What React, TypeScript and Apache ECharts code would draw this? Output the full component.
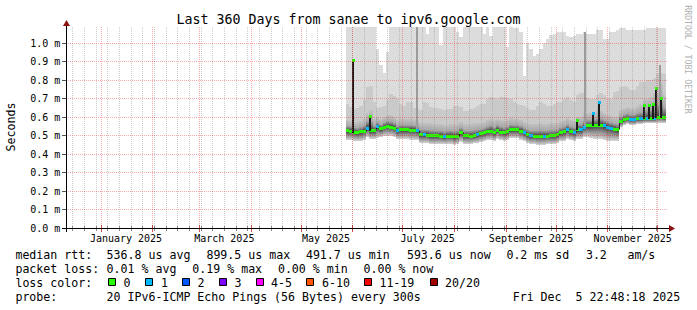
import React, { useEffect, useRef } from "react";
import * as echarts from "echarts";

// ---------------- text ----------------
const TITLE = "Last 360 Days from sanae to ipv6.google.com";
const Y_NAME = "Seconds";
const WATERMARK = "RRDTOOL / TOBI OETIKER";

// ---------------- axes (x = days since 2025-01-01 00:00) ----------------
const X_MIN = -21; // 2024-12-10 22:48
const X_MAX = 339; // 2025-12-05 22:48
const Y_MAX = 1.0865; // ms
const Y_TICKS = [0, 0.1, 0.2, 0.3, 0.4, 0.5, 0.6, 0.7, 0.8, 0.9, 1.0];
const Y_GRID = [0.1, 0.2, 0.3, 0.4, 0.5, 0.6, 0.7, 0.8, 0.9, 1.0];
const MONTH_STARTS = [0, 31, 59, 90, 120, 151, 181, 212, 243, 273, 304, 334];
const WEEK_SUNDAYS = [
  -17, -10, -3, 4, 11, 18, 25, 32, 39, 46, 53, 60, 67, 74, 81, 88, 95, 102, 109, 116,
  123, 130, 137, 144, 151, 158, 165, 172, 179, 186, 193, 200, 207, 214, 221, 228, 235,
  242, 249, 256, 263, 270, 277, 284, 291, 298, 305, 312, 319, 326, 333,
];
const LABEL_DAYS = [15, 74, 135, 196, 258, 319];
const MONTH_LABELS = ["January 2025", "March 2025", "May 2025", "July 2025", "September 2025", "November 2025"];

// ---------------- series (values in ms) ----------------
const STEP = 2; // days per column
const DAYS = [
  147, 149, 151, 153, 155, 157, 159, 161, 163, 165,
  167, 169, 171, 173, 175, 177, 179, 181, 183, 185,
  187, 189, 191, 193, 195, 197, 199, 201, 203, 205,
  207, 209, 211, 213, 215, 217, 219, 221, 223, 225,
  227, 229, 231, 233, 235, 237, 239, 241, 243, 245,
  247, 249, 251, 253, 255, 257, 259, 261, 263, 265,
  267, 269, 271, 273, 275, 277, 279, 281, 283, 285,
  287, 289, 291, 293, 295, 297, 299, 301, 303, 305,
  307, 309, 311, 313, 315, 317, 319, 321, 323, 325,
  327, 329, 331, 333, 335, 337,
];
const MEDIAN = [
  0.525, 0.522, 0.518, 0.515, 0.520, 0.522, 0.540, 0.525, 0.527, 0.548,
  0.536, 0.545, 0.550, 0.545, 0.540, 0.525, 0.530, 0.530, 0.530, 0.528,
  0.528, 0.527, 0.505, 0.505, 0.502, 0.500, 0.500, 0.500, 0.497, 0.493,
  0.495, 0.495, 0.493, 0.495, 0.515, 0.500, 0.500, 0.497, 0.500, 0.505,
  0.510, 0.515, 0.520, 0.522, 0.515, 0.528, 0.518, 0.515, 0.520, 0.530,
  0.530, 0.530, 0.522, 0.515, 0.505, 0.500, 0.497, 0.495, 0.495, 0.495,
  0.497, 0.500, 0.500, 0.505, 0.515, 0.520, 0.530, 0.520, 0.515, 0.530,
  0.532, 0.545, 0.554, 0.554, 0.555, 0.555, 0.555, 0.553, 0.545, 0.540,
  0.535, 0.530, 0.575, 0.585, 0.590, 0.585, 0.585, 0.590, 0.590, 0.590,
  0.590, 0.590, 0.590, 0.600, 0.600, 0.595,
];
const LOSS = [
  0, 0, 0, 0, 0, 0, 1, 0, 0, 1,
  0, 0, 0, 0, 0, 1, 0, 0, 0, 0,
  0, 1, 0, 1, 0, 0, 0, 0, 0, 1,
  0, 0, 0, 0, 0, 0, 0, 0, 0, 1,
  0, 0, 0, 0, 0, 0, 0, 0, 0, 0,
  0, 0, 0, 1, 0, 1, 0, 0, 0, 1,
  0, 0, 0, 0, 0, 0, 1, 0, 1, 0,
  1, 1, 0, 0, 0, 0, 0, 1, 1, 1,
  0, 0, 0, 0, 0, 1, 1, 0, 1, 0,
  1, 0, 1, 0, 0, 0,
];
const SMOKE_MAX = [
  1.09, 1.09, 1.09, 1.09, 1.09, 1.09, 1.09, 1.09, 1.09, 0.97,
  0.88, 0.84, 0.95, 1.09, 1.09, 1.09, 1.09, 1.09, 1.09, 1.09,
  1.09, 1.09, 1.09, 1.09, 1.05, 1.09, 1.09, 1.09, 0.99, 1.09,
  1.09, 1.09, 1.09, 1.06, 1.03, 1.09, 1.09, 1.09, 1.09, 1.09,
  1.09, 1.05, 1.09, 1.04, 1.09, 1.09, 1.09, 1.09, 0.98, 1.09,
  1.08, 1.08, 1.06, 0.82, 1.00, 0.97, 0.93, 0.94, 0.97, 1.00,
  1.02, 1.045, 1.05, 1.06, 1.06, 1.06, 1.04, 1.03, 1.04, 1.05,
  1.05, 1.06, 1.05, 1.05, 1.05, 1.07, 1.07, 1.02, 1.02, 1.06,
  1.06, 1.07, 1.08, 1.08, 1.07, 1.07, 1.07, 1.07, 1.07, 1.07,
  1.08, 1.08, 1.08, 1.08, 1.08, 1.08,
];
const SMOKE_HI2 = [
  0.672, 0.655, 0.645, 0.650, 0.660, 0.690, 0.760, 0.770, 0.680, 0.650,
  0.655, 0.660, 0.690, 0.725, 0.715, 0.700, 0.670, 0.660, 0.680, 0.680,
  0.650, 0.645, 0.640, 0.680, 0.675, 0.655, 0.650, 0.650, 0.645, 0.640,
  0.645, 0.645, 0.660, 0.660, 0.655, 0.635, 0.635, 0.645, 0.650, 0.660,
  0.670, 0.670, 0.700, 0.710, 0.705, 0.700, 0.710, 0.710, 0.705, 0.700,
  0.680, 0.670, 0.665, 0.660, 0.650, 0.640, 0.640, 0.660, 0.680, 0.670,
  0.660, 0.660, 0.670, 0.680, 0.680, 0.700, 0.710, 0.690, 0.680, 0.720,
  0.730, 0.730, 0.705, 0.700, 0.700, 0.720, 0.730, 0.720, 0.700, 0.700,
  0.735, 0.740, 0.760, 0.765, 0.760, 0.745, 0.745, 0.770, 0.790, 0.790,
  0.800, 0.800, 0.810, 0.830, 0.840, 0.830,
];
const SMOKE_HI3 = [
  0.585, 0.580, 0.575, 0.575, 0.580, 0.590, 0.620, 0.640, 0.590, 0.600,
  0.590, 0.600, 0.610, 0.610, 0.600, 0.585, 0.590, 0.590, 0.590, 0.590,
  0.585, 0.585, 0.565, 0.570, 0.565, 0.565, 0.560, 0.560, 0.560, 0.555,
  0.555, 0.560, 0.560, 0.560, 0.575, 0.560, 0.560, 0.560, 0.565, 0.565,
  0.570, 0.575, 0.585, 0.590, 0.585, 0.590, 0.585, 0.580, 0.585, 0.595,
  0.590, 0.590, 0.585, 0.575, 0.565, 0.560, 0.560, 0.560, 0.565, 0.560,
  0.560, 0.565, 0.565, 0.570, 0.580, 0.585, 0.595, 0.585, 0.580, 0.600,
  0.600, 0.615, 0.620, 0.620, 0.620, 0.630, 0.630, 0.620, 0.610, 0.605,
  0.600, 0.600, 0.640, 0.650, 0.655, 0.650, 0.650, 0.660, 0.670, 0.690,
  0.700, 0.710, 0.730, 0.760, 0.780, 0.720,
];
const SMOKE_MIN = [
  0.478, 0.475, 0.472, 0.470, 0.472, 0.475, 0.490, 0.480, 0.480, 0.485,
  0.490, 0.495, 0.500, 0.495, 0.490, 0.480, 0.480, 0.480, 0.480, 0.478,
  0.478, 0.475, 0.462, 0.460, 0.458, 0.455, 0.455, 0.455, 0.453, 0.452,
  0.452, 0.452, 0.450, 0.452, 0.465, 0.455, 0.455, 0.455, 0.458, 0.462,
  0.465, 0.470, 0.475, 0.478, 0.472, 0.480, 0.475, 0.472, 0.475, 0.485,
  0.485, 0.485, 0.478, 0.470, 0.460, 0.455, 0.452, 0.450, 0.450, 0.450,
  0.452, 0.455, 0.455, 0.460, 0.468, 0.472, 0.482, 0.475, 0.470, 0.480,
  0.480, 0.490, 0.490, 0.485, 0.480, 0.480, 0.480, 0.478, 0.472, 0.470,
  0.470, 0.468, 0.545, 0.555, 0.560, 0.555, 0.555, 0.560, 0.560, 0.565,
  0.565, 0.565, 0.565, 0.570, 0.570, 0.570,
];
// short median excursions (day, peak, loss class)
const SPIKE_DAYS = [151.0, 161.4, 285.6, 294.9, 298.8, 325.8, 328.8, 331.2, 333.0, 335.7];
const SPIKE_TOPS = [0.905, 0.603, 0.583, 0.617, 0.678, 0.663, 0.66, 0.665, 0.754, 0.70];
const SPIKE_LOSS = [0, 0, 0, 1, 1, 0, 0, 0, 0, 0];
// short smoke excursions (day, peak)
const GRAY_SPIKE_DAYS = [189.3, 290.4, 335.4];
const GRAY_SPIKE_TOPS = [1.09, 1.06, 0.88];

// ---------------- legend text ----------------
const RTT_LABEL = "median rtt:";
const RTT_STATS = ["536.8 us avg", "899.5 us max", "491.7 us min", "593.6 us now", "0.2 ms sd", "3.2", "am/s"];
const LOSS_LABEL = "packet loss:";
const LOSS_STATS = ["0.01 % avg", "0.19 % max", "0.00 % min", "0.00 % now"];
const COLOR_LABEL = "loss color:";
const LOSS_NAMES = ["0", "1", "2", "3", "4-5", "6-10", "11-19", "20/20"];
const LOSS_COLORS = ["#26ff00", "#00b8ff", "#0059ff", "#7e00ff", "#ff00ff", "#ff5500", "#ff0000", "#a10000"];
const PROBE_LABEL = "probe:";
const PROBE_TEXT = "20 IPv6-ICMP Echo Pings (56 Bytes) every 300s";
const DATE_PARTS = ["Fri Dec", "5 22:48:18 2025"];

// ---------------- layout ----------------
const MONO = "DejaVu Sans Mono";
const LEG_FS = 11.6;
const ROW_Y = [254.6, 268.8, 282.7, 296.9];
const LEFT_X = 15.4;
const RTT_X = [106.6, 206.4, 305.9, 406.9, 506.4, 585.9, 627.4];
const LOSS_X = [106.6, 192.3, 277.9, 363.5];
const BOX_X = [108.5, 145.5, 182.5, 219.5, 256.5, 306.5, 364.5, 430.5];
const BOX_TEXT_X = [123.4, 161.0, 197.4, 234.4, 271.0, 322.0, 379.4, 445.0];
const PROBE_X = 106.6;
const DATE_X = [512.7, 575.6];

const colIndex = (d: number) =>
  Math.min(DAYS.length - 1, Math.max(0, Math.floor((d - DAYS[0]) / STEP)));

function buildOption() {
  const smokeItem = (params: any, api: any) => {
    const cs = params.coordSys;
    const d = api.value(0);
    const xa = Math.round(api.coord([d, 0])[0]);
    const xb = Math.round(api.coord([d + STEP, 0])[0]);
    const Y = (v: number) => Math.max(cs.y, Math.round(api.coord([d, v])[1]));
    const yMax = Y(api.value(1));
    const yHi2 = Y(api.value(2));
    const yHi3 = Y(api.value(3));
    const yMed = Y(api.value(4));
    const yMin = Y(api.value(5));
    const w = xb - xa;
    const span = Math.max(1, yMin - yHi3);
    const m = Math.min(0.95, Math.max(0.05, (yMed - yHi3) / span));
    const grad = new echarts.graphic.LinearGradient(0, 0, 0, 1, [
      { offset: 0, color: "#c2c2c2" },
      { offset: m * 0.55, color: "#a8a8a8" },
      { offset: m, color: "#3a3a3a" },
      { offset: m + (1 - m) * 0.45, color: "#8a8a8a" },
      { offset: 1, color: "#d6d6d6" },
    ]);
    return {
      type: "group",
      children: [
        { type: "rect", shape: { x: xa, y: yMax, width: w, height: yMin - yMax }, style: { fill: "#dcdcdc" } },
        { type: "rect", shape: { x: xa, y: yHi2, width: w, height: yMin - yHi2 }, style: { fill: "#cacaca" } },
        { type: "rect", shape: { x: xa, y: yHi3, width: w, height: span }, style: { fill: grad } },
      ],
    };
  };

  const graySpikeItem = (params: any, api: any) => {
    const cs = params.coordSys;
    const d = api.value(0);
    const x = Math.round(api.coord([d, 0])[0]);
    const yTop = Math.max(cs.y, Math.round(api.coord([d, api.value(1)])[1]));
    const yBase = Math.round(api.coord([d, MEDIAN[colIndex(d)]])[1]);
    return {
      type: "rect",
      shape: { x: x - 1, y: yTop, width: 2, height: yBase - yTop },
      style: { fill: "#9c9c9c" },
    };
  };

  const medianItem = (params: any, api: any) => {
    const i = params.dataIndex;
    const d = api.value(0);
    const xa = Math.round(api.coord([d, 0])[0]);
    const xb = Math.round(api.coord([d + STEP, 0])[0]);
    const y = Math.floor(api.coord([d, api.value(1)])[1]) + 0.5;
    const yPrev = i > 0 ? Math.floor(api.coord([d, MEDIAN[i - 1]])[1]) + 0.5 : y;
    return {
      type: "group",
      children: [
        {
          type: "polyline",
          shape: { points: [[xa + 0.5, yPrev], [xa + 0.5, y], [xb, y]] },
          style: { stroke: "#1e1e1e", lineWidth: 1, fill: null },
        },
        {
          type: "rect",
          shape: { x: xa, y: y - 1.5, width: xb - xa, height: 3 },
          style: { fill: LOSS_COLORS[api.value(2)] },
        },
      ],
    };
  };

  const spikeItem = (params: any, api: any) => {
    const d = api.value(0);
    const x = Math.round(api.coord([d, 0])[0]);
    const yTop = Math.floor(api.coord([d, api.value(1)])[1]);
    const yBase = Math.floor(api.coord([d, MEDIAN[colIndex(d)]])[1]) + 1;
    return {
      type: "group",
      children: [
        { type: "rect", shape: { x: x - 1, y: yTop, width: 2, height: yBase - yTop }, style: { fill: "#1a1a1a" } },
        { type: "rect", shape: { x: x - 1, y: yTop - 1, width: 3, height: 3 }, style: { fill: LOSS_COLORS[api.value(2)] } },
      ],
    };
  };

  const vGrid = (color: string, tickColor: string, tick: number) => (params: any, api: any) => {
    const cs = params.coordSys;
    const raw = api.coord([api.value(0), 0])[0];
    if (raw < cs.x || raw > cs.x + cs.width) return { type: "group", children: [] };
    const x = Math.floor(raw) + 0.5;
    const yb = cs.y + cs.height;
    return {
      type: "group",
      children: [
        { type: "line", shape: { x1: x, y1: cs.y, x2: x, y2: yb }, style: { stroke: color, lineWidth: 1, lineDash: [1, 1] } },
        { type: "line", shape: { x1: x, y1: yb - tick, x2: x, y2: yb + tick + 1 }, style: { stroke: tickColor, lineWidth: 1 } },
      ],
    };
  };

  const hGridItem = (params: any, api: any) => {
    const cs = params.coordSys;
    const y = Math.floor(api.coord([0, api.value(1)])[1]) + 0.5;
    return {
      type: "line",
      shape: { x1: cs.x, y1: y, x2: cs.x + cs.width + 2, y2: y },
      style: { stroke: "rgba(255,0,0,0.33)", lineWidth: 1, lineDash: [1, 1] },
    };
  };

  const yLabelItem = (params: any, api: any) => {
    const cs = params.coordSys;
    const v = api.value(1);
    const y = Math.floor(api.coord([X_MIN, v])[1]) + 0.5;
    return {
      type: "group",
      children: [
        { type: "line", shape: { x1: cs.x - 4, y1: y, x2: cs.x, y2: y }, style: { stroke: "#555", lineWidth: 1 } },
        {
          type: "text",
          x: cs.x - 5.6,
          y: y,
          style: {
            text: v.toFixed(1) + " m",
            fontFamily: MONO,
            fontSize: 10,
            fill: "#000",
            align: "right",
            verticalAlign: "middle",
          },
        },
      ],
    };
  };

  const xLabelItem = (params: any, api: any) => {
    const cs = params.coordSys;
    const x = api.coord([api.value(0), 0])[0];
    return {
      type: "text",
      x: x,
      y: cs.y + cs.height + 10.3,
      style: {
        text: MONTH_LABELS[params.dataIndex],
        fontFamily: MONO,
        fontSize: 10,
        fill: "#000",
        align: "center",
        verticalAlign: "middle",
      },
    };
  };

  const legText = (text: string, x: number, y: number) => ({
    type: "text",
    x,
    y,
    silent: true,
    style: { text, fontFamily: MONO, fontSize: LEG_FS, fill: "#000", align: "left", verticalAlign: "middle" },
  });

  const graphics: any[] = [
    {
      type: "text",
      x: 348.5,
      y: 19.5,
      style: { text: TITLE, fontFamily: MONO, fontSize: 13.3, fill: "#000", align: "center", verticalAlign: "middle" },
    },
    {
      type: "text",
      x: 11,
      y: 127,
      rotation: Math.PI / 2,
      style: { text: Y_NAME, fontFamily: MONO, fontSize: 11.6, fill: "#000", align: "center", verticalAlign: "middle" },
    },
    {
      type: "text",
      x: 687.5,
      y: 59.5,
      rotation: -Math.PI / 2,
      style: { text: WATERMARK, fontFamily: MONO, fontSize: 8.2, fill: "#b0b0b0", align: "center", verticalAlign: "middle" },
    },
    // axes
    { type: "line", shape: { x1: 62, y1: 228.5, x2: 670, y2: 228.5 }, style: { stroke: "#000", lineWidth: 1 }, z: 100 },
    { type: "line", shape: { x1: 66.5, y1: 232, x2: 66.5, y2: 25 }, style: { stroke: "#000", lineWidth: 1 }, z: 100 },
    { type: "polygon", shape: { points: [[669, 225], [669, 232], [675, 228.5]] }, style: { fill: "#8b1010" }, z: 100 },
    { type: "polygon", shape: { points: [[63, 26], [70, 26], [66.5, 20]] }, style: { fill: "#8b1010" }, z: 100 },
    // legend
    legText(RTT_LABEL, LEFT_X, ROW_Y[0]),
    ...RTT_STATS.map((t, i) => legText(t, RTT_X[i], ROW_Y[0])),
    legText(LOSS_LABEL, LEFT_X, ROW_Y[1]),
    ...LOSS_STATS.map((t, i) => legText(t, LOSS_X[i], ROW_Y[1])),
    legText(COLOR_LABEL, LEFT_X, ROW_Y[2]),
    ...LOSS_NAMES.map((t, i) => legText(t, BOX_TEXT_X[i], ROW_Y[2])),
    ...LOSS_COLORS.map((c, i) => ({
      type: "rect",
      shape: { x: BOX_X[i], y: 278.5, width: 7, height: 7 },
      style: { fill: c, stroke: "#000", lineWidth: 1 },
    })),
    legText(PROBE_LABEL, LEFT_X, ROW_Y[3]),
    legText(PROBE_TEXT, PROBE_X, ROW_Y[3]),
    ...DATE_PARTS.map((t, i) => legText(t, DATE_X[i], ROW_Y[3])),
  ];

  return {
    animation: false,
    backgroundColor: "#ffffff",
    grid: { left: 66, right: 31, top: 27, bottom: 82, containLabel: false },
    xAxis: { type: "value", min: X_MIN, max: X_MAX, show: false },
    yAxis: { type: "value", min: 0, max: Y_MAX, show: false },
    series: [
      {
        type: "custom",
        name: "smoke",
        z: 1,
        renderItem: smokeItem,
        data: DAYS.map((d, i) => [d, SMOKE_MAX[i], SMOKE_HI2[i], SMOKE_HI3[i], MEDIAN[i], SMOKE_MIN[i]]),
        encode: { x: 0, y: [1, 5] },
      },
      {
        type: "custom",
        name: "smokeSpikes",
        z: 1,
        renderItem: graySpikeItem,
        data: GRAY_SPIKE_DAYS.map((d, i) => [d, GRAY_SPIKE_TOPS[i]]),
      },
      {
        type: "custom",
        name: "median",
        z: 3,
        renderItem: medianItem,
        data: DAYS.map((d, i) => [d, MEDIAN[i], LOSS[i]]),
        encode: { x: 0, y: 1 },
      },
      {
        type: "custom",
        name: "medianSpikes",
        z: 3,
        renderItem: spikeItem,
        data: SPIKE_DAYS.map((d, i) => [d, SPIKE_TOPS[i], SPIKE_LOSS[i]]),
        encode: { x: 0, y: 1 },
      },
      {
        type: "custom",
        name: "weekGrid",
        z: 5,
        renderItem: vGrid("rgba(128,128,128,0.4)", "rgba(110,110,110,0.8)", 2),
        data: WEEK_SUNDAYS.map((d) => [d, 0]),
      },
      {
        type: "custom",
        name: "monthGrid",
        z: 6,
        renderItem: vGrid("rgba(255,0,0,0.33)", "rgba(200,40,40,0.8)", 3),
        data: MONTH_STARTS.map((d) => [d, 0]),
      },
      {
        type: "custom",
        name: "valueGrid",
        z: 6,
        renderItem: hGridItem,
        data: Y_GRID.map((v) => [0, v]),
      },
      {
        type: "custom",
        name: "yLabels",
        z: 7,
        renderItem: yLabelItem,
        data: Y_TICKS.map((v) => [X_MIN, v]),
      },
      {
        type: "custom",
        name: "xLabels",
        z: 7,
        renderItem: xLabelItem,
        data: LABEL_DAYS.map((d) => [d, 0]),
      },
    ],
    graphic: graphics,
  };
}

export default function App() {
  const ref = useRef<HTMLDivElement>(null);
  useEffect(() => {
    if (!ref.current) return;
    const chart = echarts.init(ref.current, null, { renderer: "svg" });
    chart.setOption(buildOption() as any);
    return () => chart.dispose();
  }, []);
  return (
    <div
      ref={ref}
      style={{ position: "absolute", left: 0, top: 0, width: 697, height: 310, background: "#ffffff" }}
    />
  );
}
